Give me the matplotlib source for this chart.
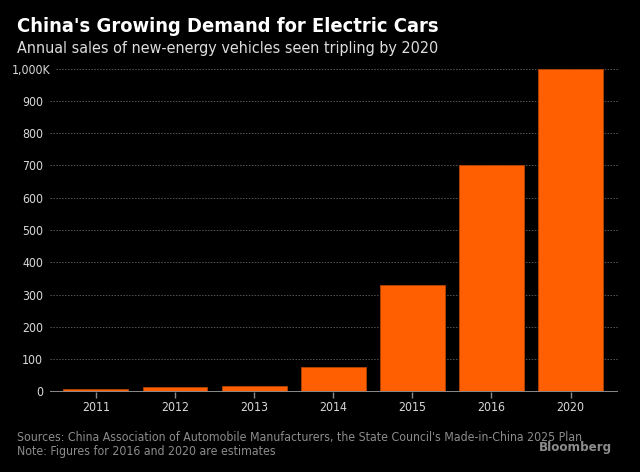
import matplotlib.pyplot as plt
import matplotlib.transforms as mtransforms
import numpy as np

years = ["2011", "2012", "2013", "2014", "2015", "2016", "2020"]
sales_k = [8, 13, 18, 75, 330, 700, 1000]
y_ticks = [0, 100, 200, 300, 400, 500, 600, 700, 800, 900, 1000]
y_labels = ["0", "100", "200", "300", "400", "500", "600", "700", "800", "900", "1,000K"]

title = "China's Growing Demand for Electric Cars"
subtitle = "Annual sales of new-energy vehicles seen tripling by 2020"
source = ("Sources: China Association of Automobile Manufacturers, "
          "the State Council's Made-in-China 2025 Plan")
note = "Note: Figures for 2016 and 2020 are estimates"

bg = "black"
orange = "#ff5f00"

plt.rcParams["font.family"] = ["DejaVu Sans"]
plt.rcParams["font.stretch"] = "condensed"

fig = plt.figure(figsize=(6.4, 4.72), dpi=100, facecolor=bg)
ax = fig.add_axes([50 / 640, 80.5 / 472, 568 / 640, 323 / 472], facecolor=bg)

x = np.arange(len(years))
ax.bar(x, sales_k, width=0.82, color=orange, edgecolor="#b34400", linewidth=0.6, zorder=3)

ax.set_xlim(-0.58, 6.6)
ax.set_ylim(0, 1000)
ax.set_xticks(x)
ax.set_xticklabels(years)
ax.set_yticks(y_ticks)
ax.set_yticklabels(y_labels)

for v in y_ticks[1:]:
    # top line starts after the wider "1,000K" label
    x0 = 6 / 568 if v == y_ticks[-1] else 0
    ax.axhline(v, xmin=x0, color="#555555", lw=0.7, ls=(0, (1.5, 1.5)), zorder=1,
               clip_on=False)
ax.axhline(0, color="#8a8a8a", lw=1.4, zorder=4)

for s in ax.spines.values():
    s.set_visible(False)
ax.tick_params(axis="x", colors="#8a8a8a", labelcolor="#d8d8d8", length=4, width=1,
               labelsize=8.8, pad=3)
ax.tick_params(axis="y", length=0, labelcolor="#d8d8d8", labelsize=8.8, pad=5)

# the top label hangs a little to the right, as in the original
top_lbl = ax.get_yticklabels()[-1]
shift = mtransforms.ScaledTranslation(7 / 100, 0, fig.dpi_scale_trans)
top_lbl.set_transform(top_lbl.get_transform() + shift)

fig.text(17 / 640, 1 - 27 / 472, title, color="white", fontsize=14.4, fontweight="bold",
         va="center", ha="left")
fig.text(17 / 640, 1 - 48 / 472, subtitle, color="#dddddd", fontsize=11.5,
         va="center", ha="left")
fig.text(17 / 640, 1 - 437 / 472, source, color="#8c8c8c", fontsize=8.8,
         va="center", ha="left")
fig.text(17 / 640, 1 - 451 / 472, note, color="#8c8c8c", fontsize=8.8,
         va="center", ha="left")
fig.text(612 / 640, 1 - 448 / 472, "Bloomberg", color="#8c8c8c", fontsize=9.5,
         fontweight="bold", va="center", ha="right")

fig.savefig("out.png", dpi=100, facecolor=bg)
